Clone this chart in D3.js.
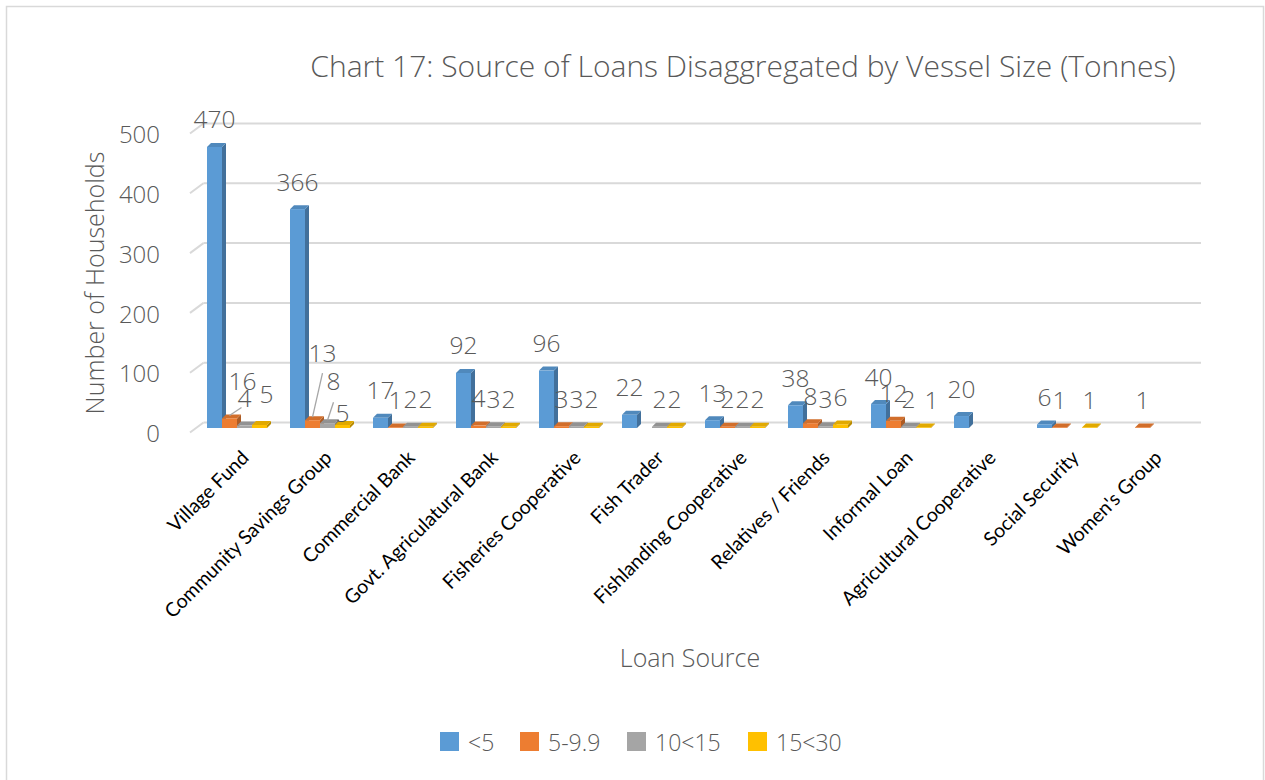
<!DOCTYPE html>
<html>
<head>
<meta charset="utf-8">
<script src="https://cdn.jsdelivr.net/npm/d3@7"></script>
<style>
  html, body { margin: 0; padding: 0; background: #ffffff; }
  svg { display: block; }
  .thin { font-family: "Open Sans", "Noto Sans", sans-serif; font-weight: 300; fill: #595959; }
  .cat { font-family: Lato, "Open Sans", sans-serif; fill: #000000; }
</style>
</head>
<body>
<svg id="chart" width="1265" height="780"></svg>
<script>
// ---------------- data ----------------
const categories = [
  "Village Fund", "Community Savings Group", "Commercial Bank",
  "Govt. Agriculatural Bank", "Fisheries Cooperative", "Fish Trader",
  "Fishlanding Cooperative", "Relatives / Friends", "Informal Loan",
  "Agricultural Cooperative", "Social Security", "Women's Group"
];
const seriesNames = ["<5", "5-9.9", "10<15", "15<30"];
const valuesLt5   = [470, 366, 17, 92, 96, 22, 13, 38, 40, 20, 6, null];
const values5to10 = [16, 13, 1, 4, 3, null, 2, 8, 12, null, 1, 1];
const values10to15 = [4, 8, 2, 3, 3, 2, 2, 3, 2, null, null, null];
const values15to30 = [5, 5, 2, 2, 2, 2, 2, 6, 1, null, 1, null];
const yTickValues = [0, 100, 200, 300, 400, 500];
const seriesColors = ["#5B9BD5", "#ED7D31", "#A5A5A5", "#FFC000"];

const titleText = "Chart 17: Source of Loans Disaggregated by Vessel Size (Tonnes)";
const yTitle = "Number of Households";
const xTitle = "Loan Source";

// manual label nudges (category index, series index, dx, dy, leader end offset)
const labelNudges = [
  { c: 0, s: 1, dx: 13, dy: -10, leader: [-1, 27] },
  { c: 0, s: 3, dx: 7, dy: -4 },
  { c: 1, s: 1, dx: 10, dy: -40, leader: [0, 21] },
  { c: 1, s: 2, dx: 6, dy: -15, leader: [0, 22] },
  { c: 1, s: 3, dx: 0, dy: 15 },
  { c: 8, s: 3, dx: 8, dy: 0 }
];

const allSeries = [valuesLt5, values5to10, values10to15, values15to30];

// ---------------- layout ----------------
const svg = d3.select("#chart");

// chart border
svg.append("rect").attr("x", 6.5).attr("y", 6.5).attr("width", 1257).attr("height", 790)
  .attr("fill", "#fff").attr("stroke", "#d9d9d9").attr("stroke-width", 1.5);

const x0 = d3.scaleBand().domain(categories).range([195.5, 1191.5])
  .paddingInner(0.277).paddingOuter(0.1385);
const x1 = d3.scaleBand().domain(seriesNames).range([0, x0.bandwidth()]);
const y = d3.scaleLinear().domain([0, 500]).range([428, 129]);

const depthX = 4, depthY = 4;
const wallBackDy = -5.5;

// back wall gridlines + side-wall diagonals
const grid = svg.append("g");
yTickValues.forEach(v => {
  const yb = y(v) + wallBackDy;
  grid.append("line").attr("x1", 203.5).attr("x2", 1201).attr("y1", yb).attr("y2", yb)
    .attr("stroke", "#d9d9d9").attr("stroke-width", 2);
  grid.append("line").attr("x1", 190).attr("x2", 203.5).attr("y1", yb + 10).attr("y2", yb)
    .attr("stroke", "#d9d9d9").attr("stroke-width", 2);
});

// y axis (labels only)
const yAxis = d3.axisLeft(y).tickValues(yTickValues).tickSize(0).tickPadding(0);
const gy = svg.append("g").attr("transform", "translate(160,6)").call(yAxis);
gy.select(".domain").remove();
gy.selectAll("text").attr("class", "thin").attr("font-size", 24).attr("fill", "#595959")
  .style("font-family", '"Open Sans", "Noto Sans", sans-serif').style("font-weight", 300);

// bars
const barsG = svg.append("g");
const bw = x1.bandwidth();
const y0 = y(0);
categories.forEach((cat, ci) => {
  allSeries.forEach((arr, si) => {
    const v = arr[ci];
    if (v === null || v === undefined) return;
    const bx = x0(cat) + x1(seriesNames[si]);
    const by = y(v);
    const col = d3.color(seriesColors[si]);
    const sideCol = col.darker(0.9);
    const topCol = col.darker(0.35);
    barsG.append("polygon")
      .attr("points", [[bx + bw, by], [bx + bw + depthX, by - depthY], [bx + bw + depthX, y0 - depthY], [bx + bw, y0]].map(p => p.join(",")).join(" "))
      .attr("fill", sideCol.formatHex());
    barsG.append("polygon")
      .attr("points", [[bx, by], [bx + depthX, by - depthY], [bx + bw + depthX, by - depthY], [bx + bw, by]].map(p => p.join(",")).join(" "))
      .attr("fill", topCol.formatHex());
    barsG.append("rect").attr("x", bx).attr("y", by).attr("width", bw).attr("height", Math.max(0, y0 - by))
      .attr("fill", col.formatHex());
  });
});

// data labels
const labelsG = svg.append("g");
categories.forEach((cat, ci) => {
  allSeries.forEach((arr, si) => {
    const v = arr[ci];
    if (v === null || v === undefined) return;
    const cx = x0(cat) + x1(seriesNames[si]) + bw / 2;
    let lx = cx, ly = y(v) - 28;
    const n = labelNudges.find(d => d.c === ci && d.s === si);
    if (n) {
      lx += n.dx; ly += n.dy;
      if (n.leader) {
        labelsG.append("line").attr("x1", cx).attr("y1", y(v) - 3)
          .attr("x2", lx + n.leader[0]).attr("y2", ly + n.leader[1])
          .attr("stroke", "#a6a6a6").attr("stroke-width", 1.3);
      }
    }
    labelsG.append("text").attr("class", "thin").attr("x", lx).attr("y", ly)
      .attr("text-anchor", "middle").attr("dominant-baseline", "central")
      .attr("font-size", 24.5).text(v);
  });
});

// category labels
const catG = svg.append("g");
categories.forEach(cat => {
  const cx = x0(cat) + x0.bandwidth() / 2;
  catG.append("text").attr("class", "cat").attr("font-size", 19.5)
    .attr("text-anchor", "end")
    .attr("transform", `translate(${cx + 13},${459}) rotate(-45)`)
    .text(cat);
});

// title
svg.append("text").attr("class", "thin").attr("x", 743).attr("y", 65)
  .attr("text-anchor", "middle").attr("dominant-baseline", "central")
  .attr("font-size", 30).text(titleText);

// axis titles
svg.append("text").attr("class", "thin").attr("font-size", 25)
  .attr("text-anchor", "middle").attr("dominant-baseline", "central")
  .attr("transform", "translate(94,283) rotate(-90)").text(yTitle);
svg.append("text").attr("class", "thin").attr("font-size", 25)
  .attr("text-anchor", "middle").attr("dominant-baseline", "central")
  .attr("x", 690).attr("y", 657).text(xTitle);

// legend
const legendX = [440, 520, 627, 748];
const legG = svg.append("g");
seriesNames.forEach((s, i) => {
  legG.append("rect").attr("x", legendX[i]).attr("y", 732).attr("width", 19).attr("height", 19)
    .attr("fill", seriesColors[i]);
  legG.append("text").attr("class", "thin").attr("font-size", 23)
    .attr("x", legendX[i] + 28).attr("y", 742).attr("dominant-baseline", "central").text(s);
});
</script>
</body>
</html>
